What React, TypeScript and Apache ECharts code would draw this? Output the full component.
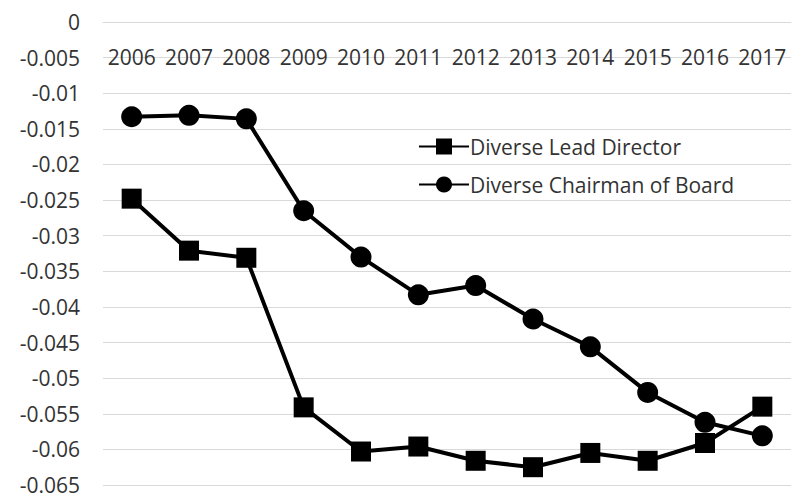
import React, { useEffect, useRef } from "react";
import * as echarts from "echarts";

const years = ["2006", "2007", "2008", "2009", "2010", "2011", "2012", "2013", "2014", "2015", "2016", "2017"];
const leadDirector = [-0.0248, -0.0321, -0.0331, -0.0541, -0.0603, -0.0596, -0.0616, -0.0625, -0.0605, -0.0616, -0.0591, -0.054];
const chairman = [-0.0133, -0.0131, -0.0136, -0.0265, -0.033, -0.0383, -0.037, -0.0417, -0.0456, -0.052, -0.0562, -0.0581];

const FONT = "Open Sans";
const TXT = "#333333";

export default function App() {
  const ref = useRef<HTMLDivElement>(null);
  useEffect(() => {
    const chart = echarts.init(ref.current!, null, { renderer: "svg" });
    chart.setOption({
      animation: false,
      backgroundColor: "#ffffff",
      grid: { left: 103, right: 2, top: 22, bottom: 13, containLabel: false, outerBoundsMode: "none" },
      legend: {
        orient: "vertical",
        left: 413,
        top: 131,
        itemWidth: 50,
        itemHeight: 20,
        itemGap: 17,
        textStyle: { fontFamily: FONT, fontSize: 21, color: TXT, padding: [0, 0, 0, -4] },
        data: ["Diverse Lead Director", "Diverse Chairman of Board"],
      },
      xAxis: {
        type: "category",
        data: years,
        position: "top",
        boundaryGap: true,
        axisLine: { show: true, onZero: false, lineStyle: { color: "#d9d9d9", width: 1 } },
        axisTick: { show: false },
        axisLabel: { inside: true, fontFamily: FONT, fontSize: 21, color: TXT, margin: 24, interval: 0 },
      },
      yAxis: {
        type: "value",
        min: -0.065,
        max: 0,
        interval: 0.005,
        axisLine: { show: false },
        axisTick: { show: false },
        splitLine: { lineStyle: { color: "#d9d9d9", width: 1 } },
        axisLabel: {
          fontFamily: FONT,
          fontSize: 21,
          lineHeight: 18,
          color: TXT,
          margin: 23,
          formatter: (v: number) => String(Number(v.toFixed(3))),
        },
      },
      series: [
        {
          name: "Diverse Lead Director",
          type: "line",
          data: leadDirector,
          symbol: "rect",
          symbolSize: 20,
          lineStyle: { color: "#000", width: 4 },
          itemStyle: { color: "#000" },
        },
        {
          name: "Diverse Chairman of Board",
          type: "line",
          data: chairman,
          symbol: "circle",
          symbolSize: 21,
          lineStyle: { color: "#000", width: 4 },
          itemStyle: { color: "#000" },
        },
      ],
    });
    return () => chart.dispose();
  }, []);
  return <div ref={ref} style={{ width: 793, height: 498, position: "absolute", left: 0, top: 0 }} />;
}
